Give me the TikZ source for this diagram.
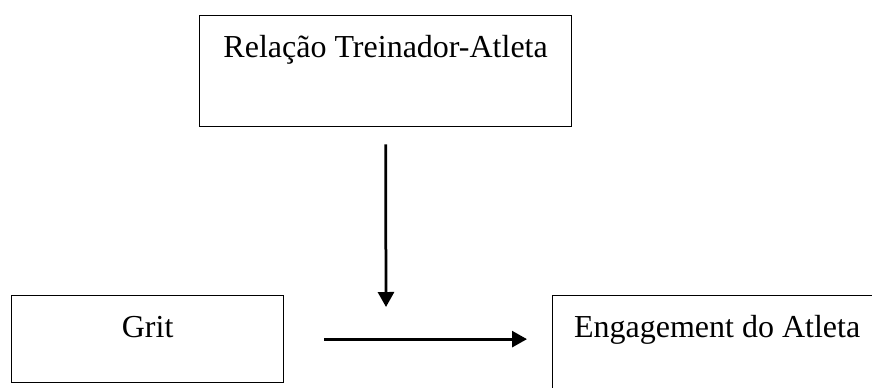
\documentclass[tikz,border=0pt]{standalone}
\usepackage{fontspec}
\setmainfont{Liberation Serif}
\usetikzlibrary{arrows.meta}

\tikzset{
	box/.style={draw, line width=0.5pt, rectangle, anchor=north west, inner xsep=0pt, inner ysep=0pt,
		text height=16.8pt, font=\fontsize{12.8pt}{15pt}\selectfont},
	link/.style={line width=1.1pt, -{Triangle[length=6pt, width=6.4pt]}}
}

\begin{document}
\begin{tikzpicture}[x=0.4pt, y=-0.4pt]
			\useasboundingbox (0,0) rectangle (872,387);
			\clip (0,0) rectangle (872,387);
			\node[box, minimum width=148.8pt, text depth=27.6pt] (rel) at (199, 15) {Relação Treinador-Atleta};
			\node[box, minimum width=108.8pt, text depth=18pt] (grit) at (11, 295) {Grit};
			\node[box, minimum width=131.6pt, text depth=25.2pt] (eng) at (552, 295) {Engagement do Atleta};
			\coordinate (mod) at (386, 307);

			\draw[link] ([yshift=-6.8pt]rel.south) -- (mod);
			\draw[link, shorten <=16pt, shorten >=10pt] (grit.east) -- (grit.east -| eng.west);
		\end{tikzpicture}
\end{document}
